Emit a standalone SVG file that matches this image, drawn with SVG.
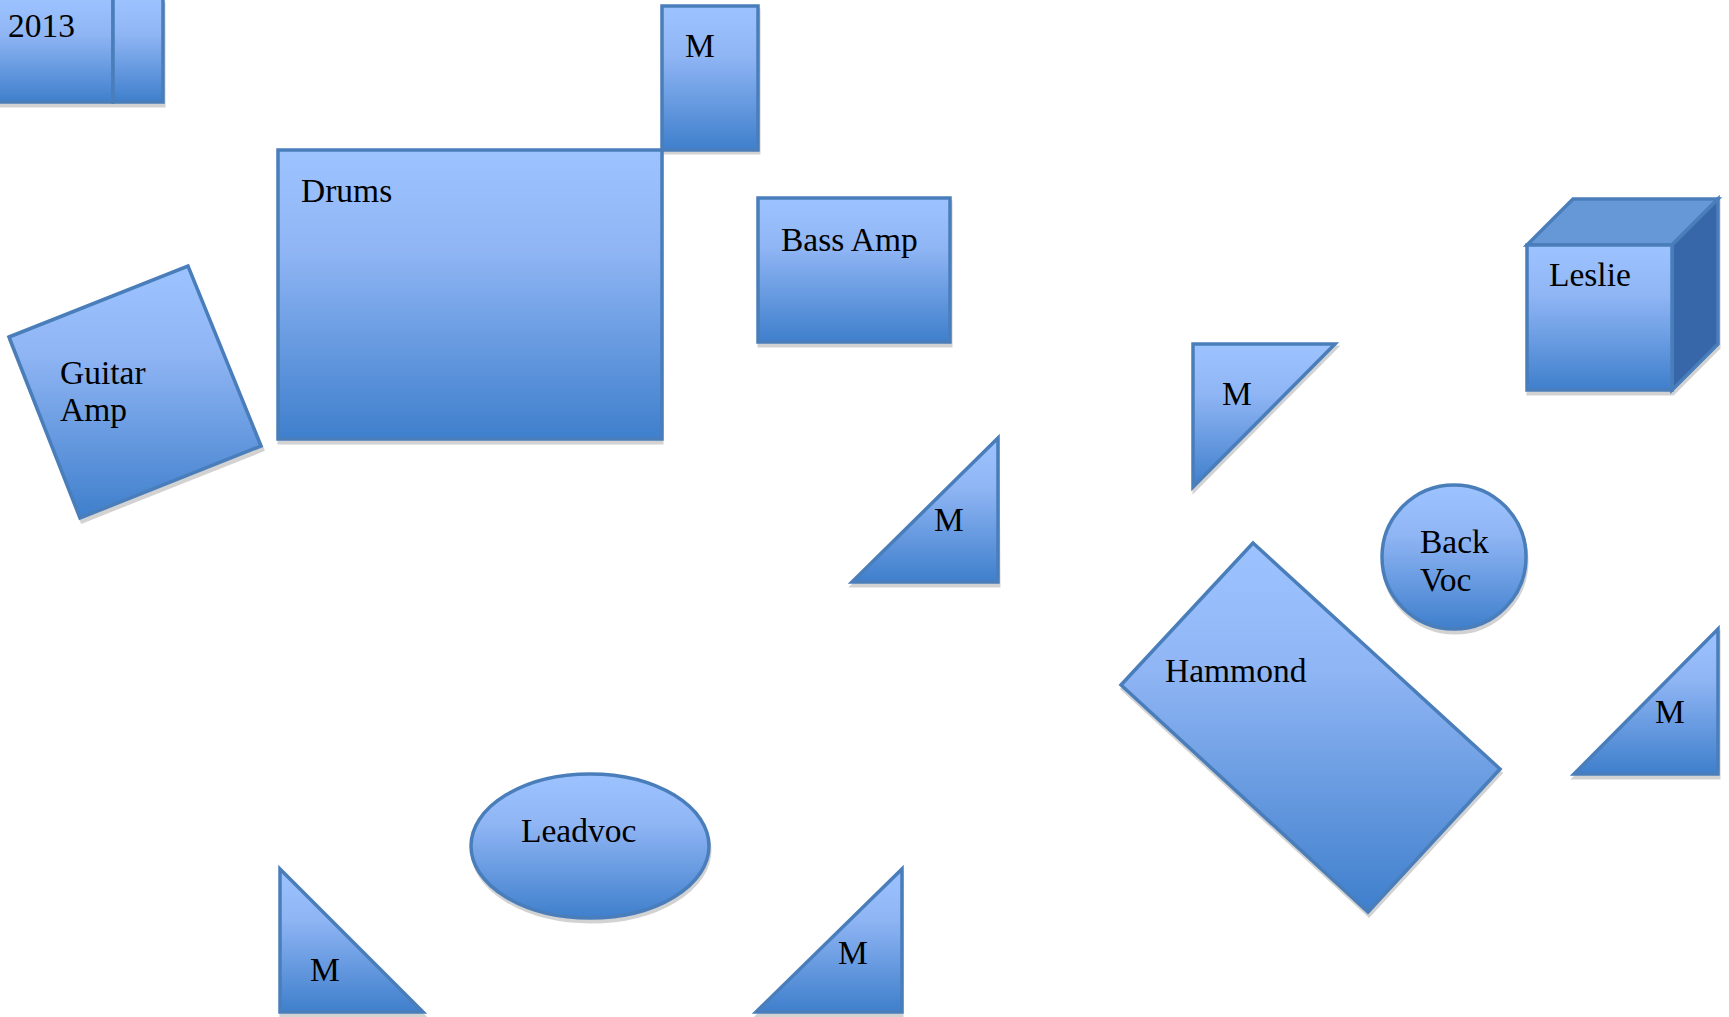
<svg xmlns="http://www.w3.org/2000/svg" width="1729" height="1017" viewBox="0 0 1729 1017">
<defs>
<linearGradient id="g" x1="0" y1="0" x2="0" y2="1">
<stop offset="0" stop-color="#9dc3ff"/>
<stop offset="0.35" stop-color="#8fb5f4"/>
<stop offset="1" stop-color="#3f7fcc"/>
</linearGradient>
<style>
.s{fill:url(#g);stroke:#4a7ebb;stroke-width:3.5;stroke-linejoin:miter}
.sh{fill:#d2d2d2;stroke:#d2d2d2;stroke-width:3}
.t{font-family:"Liberation Serif","Times New Roman",serif;font-size:33.5px;fill:#000}
</style>
</defs>
<rect width="1729" height="1017" fill="#ffffff"/>

<g id="date-box">
<rect class="sh" x="-2" y="4" width="166" height="102"/>
<rect class="s" x="-2" y="-2" width="115" height="104"/>
<rect class="s" x="113" y="-2" width="50" height="104"/>
<text class="t" x="8" y="37">2013</text>
</g>

<g id="mic-top">
<rect class="sh" x="663" y="10" width="96" height="143"/>
<rect class="s" x="662" y="6" width="96" height="144"/>
<text class="t" x="685" y="57">M</text>
</g>

<g id="drums">
<rect class="sh" x="279" y="154" width="383" height="289"/>
<rect class="s" x="278" y="150" width="384" height="289"/>
<text class="t" x="301" y="202">Drums</text>
</g>

<g id="bass-amp">
<rect class="sh" x="759" y="202" width="192" height="144"/>
<rect class="s" x="758" y="198" width="192" height="144"/>
<text class="t" x="781" y="251">Bass Amp</text>
</g>

<g id="guitar-amp">
<polygon class="sh" points="10,341 189,270 263,450 82,522"/>
<polygon class="s" points="9,337 188,266 261,446 80,518"/>
<text class="t" x="60" y="384">Guitar</text>
<text class="t" x="60" y="421">Amp</text>
</g>

<g id="mic-mid">
<polygon class="sh" points="852,586 998,441 999,586"/>
<polygon class="s" points="852,582 998,438 998,582"/>
<text class="t" x="934" y="531">M</text>
</g>

<g id="mic-upper-right">
<polygon class="sh" points="1194,348 1337,347 1194,491"/>
<polygon class="s" points="1193,344 1335,344 1193,487"/>
<text class="t" x="1222" y="405">M</text>
</g>

<g id="leslie">
<polygon class="sh" points="1528,249 1673,249 1719,203 1719,348 1673,394 1528,394"/>
<polygon fill="#6698d8" stroke="#4a7ebb" stroke-width="3.5" points="1527,245 1573,199 1718,199 1672,245"/>
<polygon fill="#3767a8" stroke="#4a7ebb" stroke-width="3.5" points="1672,245 1718,199 1718,344 1672,390"/>
<rect class="s" x="1527" y="245" width="145" height="145"/>
<text class="t" x="1549" y="286">Leslie</text>
</g>

<g id="back-voc">
<circle class="sh" cx="1455" cy="561" r="72"/>
<circle class="s" cx="1454" cy="557" r="72"/>
<text class="t" x="1420" y="553">Back</text>
<text class="t" x="1420" y="591">Voc</text>
</g>

<g id="hammond">
<polygon class="sh" points="1254,547 1501,773 1369,916 1122,689"/>
<polygon class="s" points="1253,543 1500,769 1368,912 1121,685"/>
<text class="t" x="1165" y="682">Hammond</text>
</g>

<g id="mic-right">
<polygon class="sh" points="1574,778 1719,633 1719,778"/>
<polygon class="s" points="1574,774 1718,629 1718,774"/>
<text class="t" x="1655" y="723">M</text>
</g>

<g id="leadvoc">
<ellipse class="sh" cx="591" cy="850" rx="119" ry="72"/>
<ellipse class="s" cx="590" cy="846" rx="119" ry="72"/>
<text class="t" x="521" y="842">Leadvoc</text>
</g>

<g id="mic-bottom-left">
<polygon class="sh" points="281,873 281,1016 424,1016"/>
<polygon class="s" points="280,869 280,1012 423,1012"/>
<text class="t" x="310" y="981">M</text>
</g>

<g id="mic-bottom-mid">
<polygon class="sh" points="757,1016 902,873 902,1016"/>
<polygon class="s" points="756,1012 902,869 902,1012"/>
<text class="t" x="838" y="964">M</text>
</g>

<g id="connectors"></g>
</svg>
